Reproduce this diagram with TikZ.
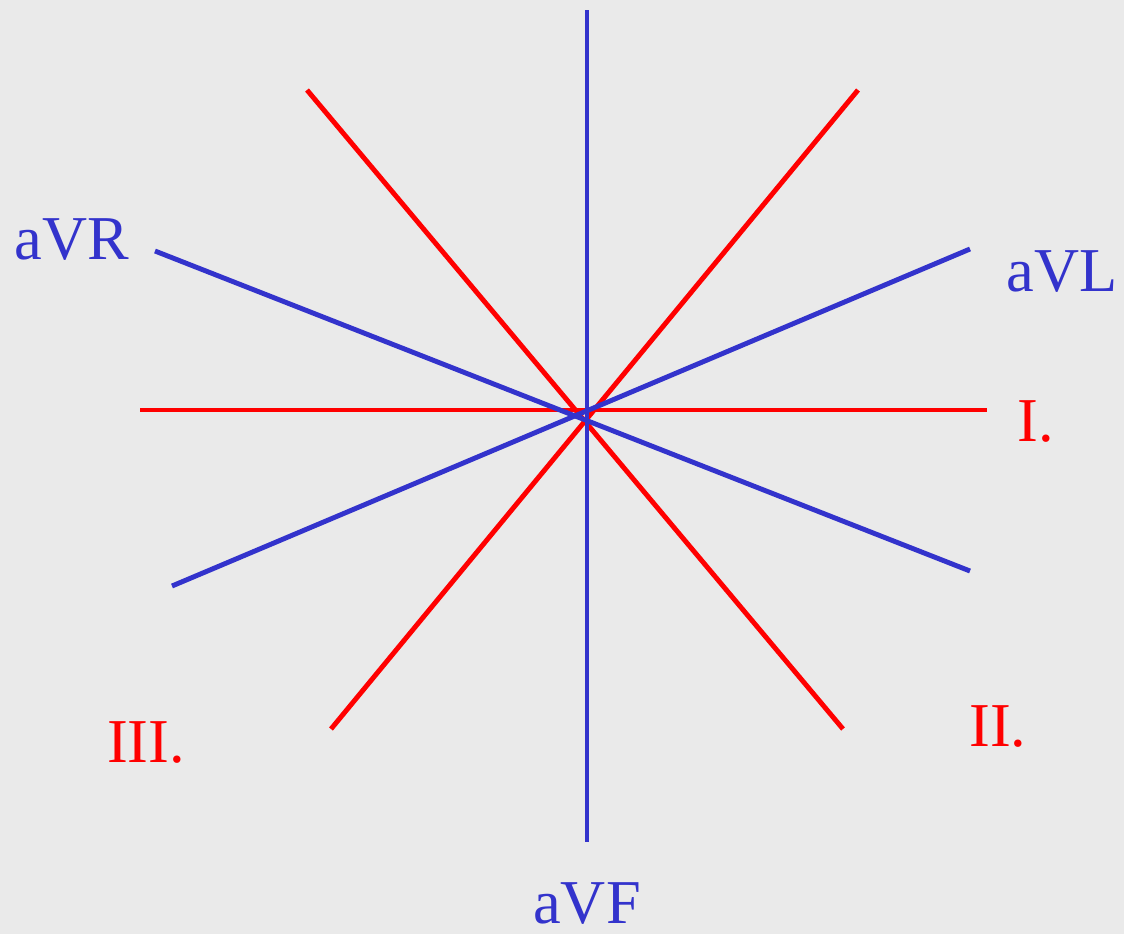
\documentclass[tikz,border=0pt]{standalone}
\usepackage{fontspec}
\setmainfont{Liberation Serif}
\definecolor{leadblue}{RGB}{51,51,204}
\definecolor{leadred}{RGB}{255,0,0}
\definecolor{bggray}{RGB}{234,234,234}
\begin{document}
\begin{tikzpicture}[x=0.02cm, y=-0.02cm, line width=2.8pt,
    limb/.style={leadred},
    aug/.style={leadblue},
    lbl/.style={font=\fontsize{35.5}{42}\selectfont, inner sep=0pt}]
        % background and margins
        \fill[bggray] (0,0) rectangle (1124,934);
        \useasboundingbox (0,0) rectangle (1124,934);

        % end points of the leads
        \coordinate (Iw) at (140,410);   \coordinate (Ie) at (987,410);
        \coordinate (IIa) at (307,90);   \coordinate (IIb) at (843,729);
        \coordinate (IIIa) at (858,90);  \coordinate (IIIb) at (331,729);
        \coordinate (Fa) at (587,10);    \coordinate (Fb) at (587,842);
        \coordinate (Ra) at (155,251);   \coordinate (Rb) at (970,571);
        \coordinate (La) at (970,249);   \coordinate (Lb) at (172,586);

        % limb leads (red)
        \draw[limb] (Iw) -- (Ie);
        \draw[limb] (IIa) -- (IIb);
        \draw[limb] (IIIa) -- (IIIb);

        % augmented leads (blue)
        \draw[aug] (Fa) -- (Fb);
        \draw[aug] (Ra) -- (Rb);
        \draw[aug] (La) -- (Lb);

        % labels
        \node[lbl, leadblue] (aVR) at (72,240) {aVR};
        \node[lbl, leadblue] (aVL) at (1062,272) {aVL};
        \node[lbl, leadblue] (aVF) at (587,904) {aVF};
        \node[lbl, leadred] (I) at (1036,422) {I.};
        \node[lbl, leadred] (II) at (998,727) {II.};
        \node[lbl, leadred] (III) at (146,743) {III.};
    \end{tikzpicture}
\end{document}
